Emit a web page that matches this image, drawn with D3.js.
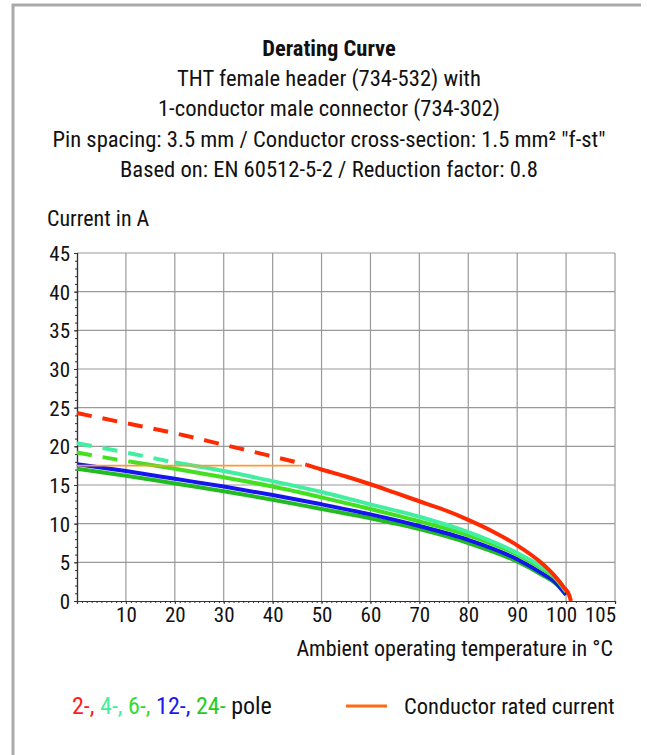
<!DOCTYPE html>
<html>
<head>
<meta charset="utf-8">
<script src="https://cdn.jsdelivr.net/npm/d3@7"></script>
<style>
  body { margin: 0; background: #fff; }
  svg text { font-family: "Roboto Condensed", "Liberation Sans Narrow", Roboto, sans-serif; fill: #111; }
</style>
</head>
<body>
<div id="chart"></div>
<script>
// Title lines
const titleLines = [
    "Derating Curve",
    "THT female header (734-532) with",
    "1-conductor male connector (734-302)",
    "Pin spacing: 3.5 mm / Conductor cross-section: 1.5 mm² \"f-st\"",
    "Based on: EN 60512-5-2 / Reduction factor: 0.8"
];

// Axis ticks
const xTicks = [10, 20, 30, 40, 50, 60, 70, 80, 90, 100, 105];
const yTicks = [0, 5, 10, 15, 20, 25, 30, 35, 40, 45];

// Temperatures (°C) and currents (A)
const temp2 = [0, 10, 20, 30, 40, 47, 50, 55, 60, 65, 70, 75, 80, 85, 90, 95, 98, 99.5, 100.3, 100.5];
const pole2 = [24.3, 23.0, 21.7, 20.2, 18.7, 17.6, 17.0, 16.1, 15.1, 14.0, 12.9, 11.8, 10.5, 9.0, 7.2, 4.9, 3.0, 1.8, 0.8, 0];
const dash2 = 47;

const tempN = [0, 10, 20, 30, 40, 50, 60, 70, 80, 90, 95, 98, 100];
const pole4 = [20.4, 19.2, 17.9, 16.8, 15.5, 14.1, 12.5, 10.9, 8.9, 6.2, 4.4, 3.0, 1.3];
const dash4 = 20;
const pole6 = [19.2, 18.1, 17.1, 16.0, 14.8, 13.4, 11.9, 10.3, 8.5, 6.0, 4.2, 2.8, 1.2];
const dash6 = 11;
const pole12 = [17.7, 16.8, 15.8, 14.8, 13.7, 12.5, 11.2, 9.7, 7.9, 5.4, 3.6, 2.3, 0.8];
const pole24 = [17.1, 16.2, 15.2, 14.2, 13.1, 11.9, 10.7, 9.3, 7.5, 5.1, 3.4, 2.2, 0.8];

// Conductor rated current
const ratedTemp = [0, 46];
const ratedCurrent = [17.5, 17.5];

const svg = d3.select("#chart")
    .append("svg")
    .attr("width", 647)
    .attr("height", 755);

// frame
svg.append("line").attr("x1", 13).attr("x2", 13).attr("y1", 4).attr("y2", 755)
    .attr("stroke", "#aaa").attr("stroke-width", 3);
svg.append("line").attr("x1", 12).attr("x2", 641).attr("y1", 5).attr("y2", 5)
    .attr("stroke", "#aaa").attr("stroke-width", 3);

// titles
const titleY = [56, 86, 116, 147, 177];
svg.selectAll(".title")
    .data(titleLines)
    .enter()
    .append("text")
    .attr("x", 329)
    .attr("y", (d, i) => titleY[i])
    .attr("text-anchor", "middle")
    .attr("font-size", (d, i) => i === 0 ? 22.5 : 22.6)
    .attr("font-weight", (d, i) => i === 0 ? "bold" : "normal")
    .text(d => d);

const pLeft = 77, pTop = 253, pRight = 615, pBottom = 601;

// x: equal width for 100-105 as for each 10 interval
const x = d3.scaleLinear()
    .domain([0, 100, 105])
    .range([pLeft, pLeft + (pRight - pLeft) * 100 / 110, pRight]);
const y = d3.scaleLinear()
    .domain([0, 45])
    .range([pBottom, pTop]);

const grid = svg.append("g");
grid.selectAll(".vg")
    .data(xTicks)
    .enter()
    .append("line")
    .attr("x1", d => x(d)).attr("x2", d => x(d))
    .attr("y1", pTop).attr("y2", pBottom)
    .attr("stroke", "#999").attr("stroke-width", 1.2);
grid.selectAll(".hg")
    .data(yTicks.slice(1))
    .enter()
    .append("line")
    .attr("x1", pLeft).attr("x2", pRight)
    .attr("y1", d => y(d)).attr("y2", d => y(d))
    .attr("stroke", "#999").attr("stroke-width", 1.2);

// axes
const yAxis = svg.append("g")
    .attr("transform", `translate(${pLeft},0)`)
    .call(d3.axisLeft(y).tickValues(yTicks).tickSize(3).tickPadding(4));
const yMinor = svg.append("g")
    .attr("transform", `translate(${pLeft},0)`)
    .call(d3.axisLeft(y).tickValues(d3.range(0, 46, 1)).tickSize(2).tickFormat(""));
const xAxis = svg.append("g")
    .attr("transform", `translate(0,${pBottom})`)
    .call(d3.axisBottom(x).tickValues(xTicks).tickSize(3).tickPadding(3));
const xMinor = svg.append("g")
    .attr("transform", `translate(0,${pBottom})`)
    .call(d3.axisBottom(x).tickValues(d3.range(0, 106, 1)).tickSize(2).tickFormat(""));

[yAxis, yMinor, xAxis, xMinor].forEach(g => {
    g.select(".domain").attr("stroke", "#333").attr("stroke-width", 1.2);
    g.selectAll(".tick line").attr("stroke", "#333");
});
[yAxis, xAxis].forEach(g => {
    g.selectAll(".tick text").attr("font-size", 21).attr("fill", "#111")
        .style("font-family", "\"Roboto Condensed\", \"Liberation Sans Narrow\", Roboto, sans-serif");
});
yAxis.selectAll(".tick text").attr("dy", "0.36em");
// last two x labels are pulled left in the original
xAxis.selectAll(".tick text").attr("dx", d => d === 105 ? -15 : d === 100 ? -5 : 0);

// axis titles
svg.append("text").attr("x", 47).attr("y", 226).attr("font-size", 22).text("Current in A");
svg.append("text").attr("x", 613).attr("y", 656).attr("text-anchor", "end")
    .attr("font-size", 22).text("Ambient operating temperature in °C");

// curves
const line = d3.line().x(d => x(d[0])).y(d => y(d[1])).curve(d3.curveMonotoneX);

function drawCurve(temps, vals, dashEnd, color, width) {
    const pts = temps.map((t, i) => [t, vals[i]]);
    if (dashEnd > 0) {
        const dashed = pts.filter(p => p[0] <= dashEnd);
        const solid = pts.filter(p => p[0] >= dashEnd);
        if (solid.length && solid[0][0] !== dashEnd) {
            const v = d3.scaleLinear().domain(temps).range(vals)(dashEnd);
            dashed.push([dashEnd, v]);
            solid.unshift([dashEnd, v]);
        }
        svg.append("path").datum(dashed).attr("d", line)
            .attr("fill", "none").attr("stroke", color).attr("stroke-width", width)
            .attr("stroke-dasharray", "15,11");
        svg.append("path").datum(solid).attr("d", line)
            .attr("fill", "none").attr("stroke", color).attr("stroke-width", width);
    } else {
        svg.append("path").datum(pts).attr("d", line)
            .attr("fill", "none").attr("stroke", color).attr("stroke-width", width);
    }
}

drawCurve(tempN, pole24, 0, "#22bb22", 4);
drawCurve(tempN, pole12, 0, "#1515ee", 4);
drawCurve(tempN, pole6, dash6, "#44e020", 4);
drawCurve(tempN, pole4, dash4, "#40f0a0", 4);
drawCurve(temp2, pole2, dash2, "#ff2a00", 4);

svg.append("path")
    .datum(ratedTemp.map((t, i) => [t, ratedCurrent[i]]))
    .attr("d", d3.line().x(d => x(d[0])).y(d => y(d[1])))
    .attr("stroke", "#ff9a30").attr("stroke-width", 1.6).attr("fill", "none");

// legend
const legendText = ["2-,", " 4-,", " 6-,", " 12-,", " 24-", " pole"];
const legendColor = ["#ff1a1a", "#40f0a0", "#33dd33", "#1a1aee", "#22cc22", "#111"];
const lt = svg.append("text").attr("x", 72).attr("y", 714).attr("font-size", 24)
    .attr("xml:space", "preserve");
lt.selectAll("tspan")
    .data(legendText)
    .enter()
    .append("tspan")
    .style("fill", (d, i) => legendColor[i])
    .text(d => d);
svg.append("line").attr("x1", 346).attr("x2", 387).attr("y1", 706).attr("y2", 706)
    .attr("stroke", "#ff6a13").attr("stroke-width", 3);
svg.append("text").attr("x", 404).attr("y", 714).attr("font-size", 22.5).text("Conductor rated current");
</script>
</body>
</html>
